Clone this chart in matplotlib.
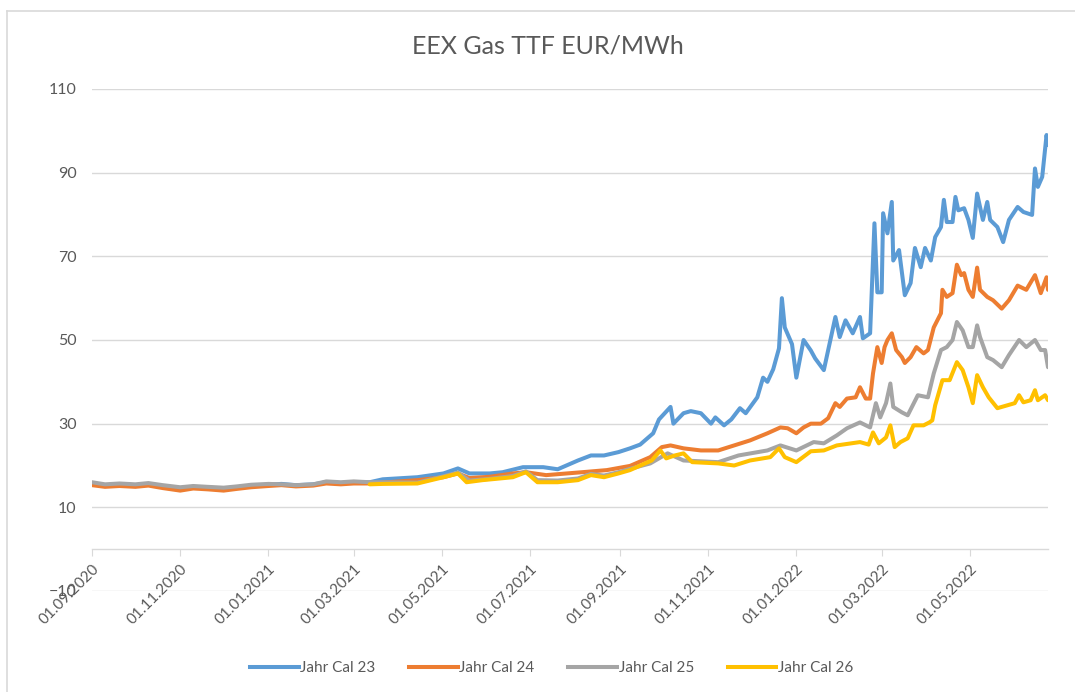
import matplotlib
matplotlib.use("Agg")
import matplotlib.pyplot as plt
import matplotlib.dates as mdates
import numpy as np
import pandas as pd
from matplotlib.lines import Line2D

# values (EUR/MWh)
cal23_dates = [
    "2020-09-01", "2020-09-10", "2020-09-20", "2020-10-01", "2020-10-10", "2020-10-20",
    "2020-11-01", "2020-11-10", "2020-11-20", "2020-12-01", "2020-12-10", "2020-12-20",
    "2021-01-01", "2021-01-10", "2021-01-20", "2021-02-01", "2021-02-10", "2021-02-20",
    "2021-03-01", "2021-03-12", "2021-03-21", "2021-04-14", "2021-05-02", "2021-05-12",
    "2021-05-20", "2021-06-03", "2021-06-12", "2021-06-26", "2021-07-10", "2021-07-20",
    "2021-08-03", "2021-08-12", "2021-08-21", "2021-08-31", "2021-09-08", "2021-09-15",
    "2021-09-24", "2021-09-28", "2021-10-06", "2021-10-08", "2021-10-15", "2021-10-20",
    "2021-10-27", "2021-11-03", "2021-11-06", "2021-11-12", "2021-11-17", "2021-11-23",
    "2021-11-27", "2021-12-05", "2021-12-09", "2021-12-12", "2021-12-16", "2021-12-20",
    "2021-12-22", "2021-12-24", "2021-12-29", "2022-01-01", "2022-01-06", "2022-01-11",
    "2022-01-14", "2022-01-20", "2022-01-28", "2022-01-31", "2022-02-04", "2022-02-09",
    "2022-02-14", "2022-02-16", "2022-02-21", "2022-02-24", "2022-02-26", "2022-03-01",
    "2022-03-02", "2022-03-05", "2022-03-08", "2022-03-09", "2022-03-13", "2022-03-17",
    "2022-03-21", "2022-03-24", "2022-03-28", "2022-03-31", "2022-04-04", "2022-04-07",
    "2022-04-11", "2022-04-13", "2022-04-15", "2022-04-19", "2022-04-21", "2022-04-23",
    "2022-04-27", "2022-04-30", "2022-05-03", "2022-05-06", "2022-05-08", "2022-05-10",
    "2022-05-13", "2022-05-15", "2022-05-20", "2022-05-24", "2022-05-28", "2022-06-03",
    "2022-06-07", "2022-06-13", "2022-06-15", "2022-06-17", "2022-06-20", "2022-06-23",
    "2022-06-24",
]
cal23_vals = [
    15.8, 15.2, 15.5, 15.3, 15.6, 15.0,
    14.6, 14.9, 14.7, 14.5, 14.8, 15.1,
    15.4, 15.6, 15.3, 15.5, 16.0, 15.8,
    16.0, 16.0, 16.7, 17.2, 18.1, 19.3,
    18.1, 18.1, 18.4, 19.6, 19.6, 19.1,
    21.2, 22.4, 22.4, 23.2, 24.1, 25.0,
    27.7, 31.0, 34.0, 30.0, 32.5, 33.0,
    32.5, 30.0, 31.5, 29.6, 31.0, 33.7,
    32.5, 36.3, 41.0, 40.0, 43.0, 48.0,
    60.0, 53.0, 49.0, 41.0, 50.0, 47.5,
    45.6, 42.8, 55.5, 50.7, 54.7, 51.6,
    55.5, 50.4, 51.6, 77.9, 61.4, 61.4,
    80.3, 75.5, 83.0, 69.0, 71.5, 60.7,
    63.6, 72.0, 67.4, 72.0, 69.0, 74.6,
    77.0, 83.5, 78.2, 78.2, 84.2, 81.0,
    81.5, 78.7, 74.4, 85.0, 81.8, 78.7,
    83.0, 78.7, 77.0, 73.4, 78.7, 81.8,
    80.6, 79.9, 91.0, 86.6, 89.0, 99.0,
    96.6,
]

cal24_dates = [
    "2020-09-01", "2020-09-10", "2020-09-20", "2020-10-01", "2020-10-10", "2020-10-20",
    "2020-11-01", "2020-11-10", "2020-11-20", "2020-12-01", "2020-12-10", "2020-12-20",
    "2021-01-01", "2021-01-10", "2021-01-20", "2021-02-01", "2021-02-10", "2021-02-20",
    "2021-03-01", "2021-03-12", "2021-04-14", "2021-05-02", "2021-05-12", "2021-05-20",
    "2021-06-03", "2021-06-19", "2021-06-28", "2021-07-12", "2021-08-06", "2021-08-23",
    "2021-09-08", "2021-09-22", "2021-09-30", "2021-10-06", "2021-10-15", "2021-10-27",
    "2021-11-08", "2021-11-19", "2021-11-30", "2021-12-12", "2021-12-21", "2021-12-26",
    "2022-01-01", "2022-01-06", "2022-01-11", "2022-01-18", "2022-01-23", "2022-01-28",
    "2022-01-31", "2022-02-05", "2022-02-11", "2022-02-14", "2022-02-18", "2022-02-21",
    "2022-02-23", "2022-02-26", "2022-03-01", "2022-03-03", "2022-03-05", "2022-03-08",
    "2022-03-11", "2022-03-15", "2022-03-17", "2022-03-21", "2022-03-25", "2022-03-30",
    "2022-04-02", "2022-04-06", "2022-04-11", "2022-04-12", "2022-04-15", "2022-04-19",
    "2022-04-22", "2022-04-25", "2022-04-27", "2022-04-30", "2022-05-03", "2022-05-06",
    "2022-05-08", "2022-05-13", "2022-05-17", "2022-05-23", "2022-05-28", "2022-06-03",
    "2022-06-09", "2022-06-15", "2022-06-19", "2022-06-23", "2022-06-24",
]
cal24_vals = [
    15.3, 14.9, 15.1, 14.9, 15.2, 14.6,
    14.0, 14.5, 14.3, 14.0, 14.4, 14.8,
    15.1, 15.3, 15.0, 15.2, 15.7, 15.5,
    15.7, 15.7, 16.5, 17.2, 18.1, 17.0,
    17.3, 18.1, 18.4, 17.7, 18.4, 18.9,
    19.9, 22.0, 24.4, 24.8, 24.1, 23.6,
    23.6, 24.8, 26.0, 27.7, 29.1, 28.9,
    27.7, 29.1, 30.0, 30.0, 31.3, 34.9,
    34.0, 36.0, 36.3, 38.7, 36.0, 36.0,
    42.0, 48.3, 44.5, 48.3, 50.0, 51.6,
    47.6, 45.9, 44.5, 45.9, 48.3, 46.8,
    47.6, 53.0, 56.4, 62.0, 60.3, 61.2,
    68.0, 65.5, 66.0, 62.0, 60.3, 67.3,
    62.0, 60.3, 59.5, 57.5, 59.5, 63.0,
    62.0, 65.5, 61.2, 65.0, 62.0,
]

cal25_dates = [
    "2020-09-01", "2020-09-10", "2020-09-20", "2020-10-01", "2020-10-10", "2020-10-20",
    "2020-11-01", "2020-11-10", "2020-11-20", "2020-12-01", "2020-12-10", "2020-12-20",
    "2021-01-01", "2021-01-10", "2021-01-20", "2021-02-01", "2021-02-10", "2021-02-20",
    "2021-03-01", "2021-03-12", "2021-04-14", "2021-05-02", "2021-05-12", "2021-05-20",
    "2021-06-03", "2021-06-19", "2021-06-28", "2021-07-06", "2021-07-20", "2021-08-03",
    "2021-08-12", "2021-08-21", "2021-08-31", "2021-09-08", "2021-09-22", "2021-10-04",
    "2021-10-15", "2021-11-08", "2021-11-22", "2021-12-12", "2021-12-21", "2022-01-01",
    "2022-01-13", "2022-01-20", "2022-01-29", "2022-02-05", "2022-02-14", "2022-02-21",
    "2022-02-25", "2022-02-28", "2022-03-04", "2022-03-07", "2022-03-09", "2022-03-15",
    "2022-03-19", "2022-03-26", "2022-04-02", "2022-04-06", "2022-04-11", "2022-04-15",
    "2022-04-19", "2022-04-22", "2022-04-26", "2022-04-30", "2022-05-03", "2022-05-06",
    "2022-05-08", "2022-05-13", "2022-05-17", "2022-05-23", "2022-05-28", "2022-06-04",
    "2022-06-09", "2022-06-15", "2022-06-19", "2022-06-22", "2022-06-24",
]
cal25_vals = [
    16.0, 15.5, 15.7, 15.5, 15.8, 15.3,
    14.8, 15.1, 14.9, 14.7, 15.0, 15.4,
    15.6, 15.5, 15.3, 15.5, 16.2, 16.0,
    16.2, 16.0, 15.9, 17.4, 18.3, 16.4,
    16.8, 17.5, 18.6, 16.5, 16.4, 16.9,
    18.0, 17.6, 18.4, 19.2, 20.5, 22.9,
    21.2, 20.8, 22.4, 23.6, 24.8, 23.6,
    25.6, 25.3, 27.2, 28.9, 30.3, 29.1,
    34.9, 31.5, 34.9, 39.6, 34.0, 32.7,
    32.0, 36.8, 36.3, 42.0, 47.6, 48.3,
    50.0, 54.3, 52.3, 48.3, 48.3, 53.5,
    50.7, 45.9, 45.2, 43.5, 46.4, 50.0,
    48.3, 50.0, 47.6, 47.6, 43.5,
]

cal26_dates = [
    "2021-03-12", "2021-03-21", "2021-04-14", "2021-05-02", "2021-05-12", "2021-05-18",
    "2021-05-29", "2021-06-19", "2021-06-28", "2021-07-06", "2021-07-20", "2021-08-03",
    "2021-08-12", "2021-08-21", "2021-08-31", "2021-09-08", "2021-09-23", "2021-09-29",
    "2021-10-03", "2021-10-09", "2021-10-15", "2021-10-21", "2021-11-08", "2021-11-19",
    "2021-11-30", "2021-12-14", "2021-12-20", "2021-12-24", "2022-01-01", "2022-01-11",
    "2022-01-20", "2022-01-29", "2022-02-08", "2022-02-14", "2022-02-20", "2022-02-23",
    "2022-02-27", "2022-03-04", "2022-03-07", "2022-03-10", "2022-03-14", "2022-03-19",
    "2022-03-23", "2022-03-30", "2022-04-03", "2022-04-05", "2022-04-07", "2022-04-12",
    "2022-04-17", "2022-04-22", "2022-04-26", "2022-04-30", "2022-05-03", "2022-05-06",
    "2022-05-10", "2022-05-14", "2022-05-20", "2022-05-27", "2022-06-01", "2022-06-04",
    "2022-06-07", "2022-06-12", "2022-06-15", "2022-06-17", "2022-06-22", "2022-06-24",
]
cal26_vals = [
    15.5, 15.6, 15.7, 17.2, 18.1, 16.0,
    16.5, 17.2, 18.4, 16.0, 16.0, 16.5,
    17.7, 17.2, 18.1, 18.9, 21.2, 23.6,
    21.7, 22.4, 22.9, 20.8, 20.5, 20.0,
    21.2, 22.0, 24.1, 22.0, 20.8, 23.4,
    23.6, 24.8, 25.3, 25.6, 25.0, 27.9,
    25.3, 26.7, 29.6, 24.4, 25.6, 26.5,
    29.6, 29.6, 30.3, 30.8, 34.4, 40.4,
    40.4, 44.7, 42.8, 38.7, 34.9, 41.6,
    38.7, 36.3, 33.7, 34.4, 34.9, 36.8,
    35.1, 35.6, 38.0, 35.6, 36.8, 35.6,
]

series = [
    ("Jahr Cal 23", cal23_dates, cal23_vals, "#5B9BD5"),
    ("Jahr Cal 24", cal24_dates, cal24_vals, "#ED7D31"),
    ("Jahr Cal 25", cal25_dates, cal25_vals, "#A5A5A5"),
    ("Jahr Cal 26", cal26_dates, cal26_vals, "#FFC000"),
]
y_ticks = [-10, 10, 30, 50, 70, 90, 110]
x_start, x_end = "2020-09-01", "2022-06-24"

TXT = "#595959"
GRID = "#D9D9D9"
LW = 2.9
plt.rcParams["font.family"] = ["Lato", "DejaVu Sans"]

fig = plt.figure(figsize=(10.75, 6.92), dpi=100)
ax = fig.add_axes([92 / 1075, 1 - 591 / 692, (1048 - 92) / 1075, (591 - 89) / 692])

for label, d, v, c in series:
    ax.plot(pd.to_datetime(d), v, color=c, lw=LW, label=label,
            solid_joinstyle="round", solid_capstyle="round")

ax.set_ylim(-10, 110)
ax.set_yticks(y_ticks)
ax.set_xlim(pd.Timestamp(x_start), pd.Timestamp(x_end))
ax.xaxis.set_major_locator(mdates.MonthLocator(bymonth=[1, 3, 5, 7, 9, 11], bymonthday=1))
ax.xaxis.set_major_formatter(mdates.DateFormatter("%d.%m.%Y"))

for y in y_ticks:
    ax.axhline(y, color=GRID, lw=1.0, zorder=0)

for s in ["top", "right", "left"]:
    ax.spines[s].set_visible(False)
ax.spines["bottom"].set_position(("data", 0))
ax.spines["bottom"].set_color(GRID)
ax.spines["bottom"].set_linewidth(1.0)
ax.spines["bottom"].set_zorder(0)

ax.tick_params(axis="y", length=0, labelsize=11.5, labelcolor=TXT, pad=11)
ax.tick_params(axis="x", length=5, color=GRID, labelsize=11, labelcolor=TXT, pad=4)
for t in ax.get_xticklabels():
    t.set_rotation(45)
    t.set_ha("right")
    t.set_rotation_mode("anchor")

fig.text(0.51, 1 - 46 / 692, "EEX Gas TTF EUR/MWh", ha="center", va="center",
         fontsize=18, color=TXT)

handles = [Line2D([0], [0], color=c, lw=LW) for _, _, _, c in series]
fig.legend(handles, [s[0] for s in series], loc="center", bbox_to_anchor=(0.513, 1 - 668 / 692),
           ncol=4, frameon=False, fontsize=11, labelcolor=TXT, handlelength=3.2,
           handletextpad=0.1, columnspacing=2.2)

# chart-area frame (top and left edges visible in the reference)
fig.add_artist(Line2D([7 / 1075, 7 / 1075], [0, 1 - 11 / 692], transform=fig.transFigure,
                      color=GRID, lw=1.2))
fig.add_artist(Line2D([7 / 1075, 1], [1 - 11 / 692, 1 - 11 / 692], transform=fig.transFigure,
                      color=GRID, lw=1.2))

fig.savefig("out.png", dpi=100, facecolor="white")
